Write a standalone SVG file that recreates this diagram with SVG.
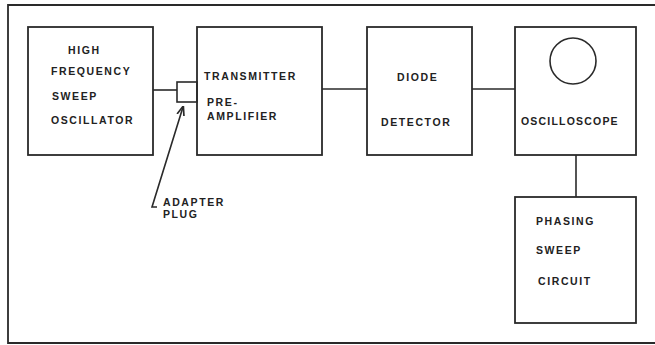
<svg xmlns="http://www.w3.org/2000/svg" width="655" height="345" viewBox="0 0 655 345">
<style>
.b{fill:none;stroke:#2a2a2a;stroke-width:1.8}
.c{fill:none;stroke:#2a2a2a;stroke-width:1.6}
text{font-family:"Liberation Sans",Arial,sans-serif;font-weight:bold;font-size:10.5px;letter-spacing:1.6px;fill:#222}
</style>
<defs>
<marker id="ah" viewBox="0 0 8 8" refX="7" refY="4" markerWidth="6" markerHeight="6" orient="auto"><path d="M0,1 L8,4 L0,7" fill="none" stroke="#2a2a2a" stroke-width="1.4"/></marker>
</defs>
<rect width="655" height="345" fill="#fff"/>
<path class="b" d="M655,5 L8,5 L8,343 L655,343"/>
<g id="osc">
<rect class="b" x="28" y="27" width="125" height="128"/>
<text x="68" y="54">HIGH</text>
<text x="51" y="75">FREQUENCY</text>
<text x="52" y="100">SWEEP</text>
<text x="51" y="124">OSCILLATOR</text>
</g>
<g id="adapter">
<rect class="c" x="177" y="82" width="20" height="20"/>
</g>
<g id="preamp">
<rect class="b" x="197" y="27" width="125" height="128"/>
<text x="204" y="80">TRANSMITTER</text>
<text x="207" y="106">PRE-</text>
<text x="207" y="120">AMPLIFIER</text>
</g>
<g id="detector">
<rect class="b" x="367" y="27" width="105" height="128"/>
<text x="397" y="81">DIODE</text>
<text x="381" y="126">DETECTOR</text>
</g>
<g id="scope">
<rect class="b" x="515" y="27" width="121" height="128"/>
<circle class="c" cx="573" cy="61" r="23"/>
<text x="521" y="125" style="letter-spacing:1.2px">OSCILLOSCOPE</text>
</g>
<g id="phasing">
<rect class="b" x="515" y="197" width="121" height="126"/>
<text x="536" y="225">PHASING</text>
<text x="536" y="254">SWEEP</text>
<text x="538" y="285">CIRCUIT</text>
</g>
<g id="connectors">
<line class="c" x1="153" y1="90" x2="177" y2="90"/>
<line class="c" x1="322" y1="89" x2="367" y2="89"/>
<line class="c" x1="472" y1="89" x2="515" y2="89"/>
<line class="c" x1="576" y1="155" x2="576" y2="197"/>
<path class="c" d="M157,207 L152,207 L183,107" marker-end="url(#ah)"/>
</g>
<g id="label">
<text x="163" y="206">ADAPTER</text>
<text x="163" y="218">PLUG</text>
</g>
</svg>
